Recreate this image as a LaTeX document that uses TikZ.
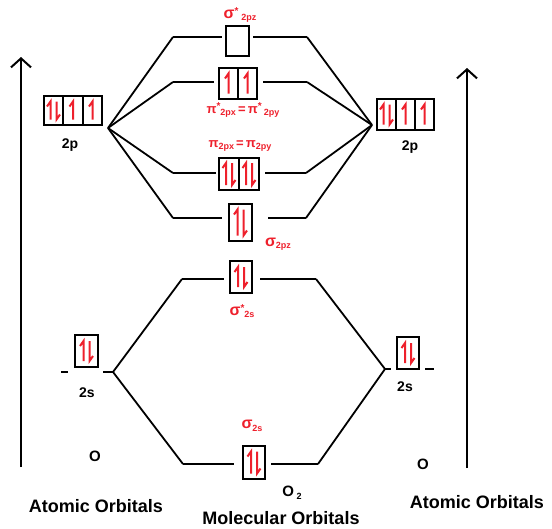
\documentclass[tikz,border=0pt]{standalone}
\usepackage{fontspec}
\setmainfont{Liberation Sans}
\usetikzlibrary{arrows.meta}
\definecolor{elred}{RGB}{238,32,44}
\newcommand{\lowtxt}[1]{\raisebox{-2.5pt}{\fontsize{9}{9}\selectfont #1}}
\newcommand{\hightxt}[1]{\raisebox{4pt}{\fontsize{10}{10}\selectfont #1}}
\begin{document}
\begin{tikzpicture}[x=1pt,y=-1pt,
  lvl/.style={line width=1.8pt, black},
  orb/.style={draw, line width=2.4pt, inner sep=0pt},
  harp/.style={elred, line width=2pt, line join=miter},
  rl/.style={text=elred, font=\bfseries\fontsize{16}{16}\selectfont, inner sep=0pt},
  rs/.style={text=elred, font=\bfseries\fontsize{13}{13}\selectfont, inner sep=0pt},
  bl/.style={font=\bfseries\fontsize{14}{14}\selectfont, inner sep=0pt},
  big/.style={font=\bfseries\fontsize{18}{18}\selectfont, inner sep=0pt},
  axis/.style={line width=2pt, -{Straight Barb[length=9pt,width=20pt,line width=2pt]}},
  pics/uph/.style={code={\draw[harp] (0,#1) -- (0,-#1) -- (-3.5,-#1+5);}},
  pics/dnh/.style={code={\draw[harp] (0,-#1) -- (0,#1) -- (3.5,#1-5);}},
  pics/pairh/.style={code={\pic at (-3,0) {uph=#1}; \pic at (3,0) {dnh=#1};}}
]
\useasboundingbox (0,0) rectangle (552,528);

% axes
\coordinate (la0) at (21,467); \coordinate (la1) at (21,57);
\coordinate (ra0) at (467,468); \coordinate (ra1) at (467,68);
\draw[axis] (la0) -- (la1);
\draw[axis] (ra0) -- (ra1);

% atomic 2p boxes
\node[orb, minimum width=19.5pt, minimum height=29pt] (l2pa) at (53.5,110.5) {};
\node[orb, minimum width=19.5pt, minimum height=29pt] (l2pb) at (73,110.5) {};
\node[orb, minimum width=19.5pt, minimum height=29pt] (l2pc) at (92.5,110.5) {};
\pic at (l2pa) {pairh=9}; \pic at (l2pb) {uph=9}; \pic at (l2pc) {uph=9};
\node[orb, minimum width=19pt, minimum height=31pt] (r2pa) at (386.5,114.5) {};
\node[orb, minimum width=19pt, minimum height=31pt] (r2pb) at (405.5,114.5) {};
\node[orb, minimum width=19pt, minimum height=31pt] (r2pc) at (424.5,114.5) {};
\pic at (r2pa) {pairh=10}; \pic at (r2pb) {uph=10}; \pic at (r2pc) {uph=10};
\node[bl] (l2pt) at (70,145) {2p};
\node[bl] (r2pt) at (410,147) {2p};

% molecular orbital boxes (2p)
\node[orb, minimum width=23pt, minimum height=30pt] (sps) at (237.5,41) {};
\node[orb, minimum width=19pt, minimum height=31pt] (pisa) at (228.5,83.5) {};
\node[orb, minimum width=19pt, minimum height=31pt] (pisb) at (247.5,83.5) {};
\pic at (pisa) {uph=10}; \pic at (pisb) {uph=10};
\node[orb, minimum width=20pt, minimum height=32pt] (pia) at (229,174) {};
\node[orb, minimum width=20pt, minimum height=32pt] (pib) at (249,174) {};
\pic at (pia) {pairh=11}; \pic at (pib) {pairh=11};
\node[orb, minimum width=23pt, minimum height=37pt] (spz) at (240.5,222.5) {};
\pic at (spz) {pairh=13};

% 2s boxes
\node[orb, minimum width=22pt, minimum height=32pt] (sss) at (241,277) {};
\pic at (sss) {pairh=10};
\node[orb, minimum width=22pt, minimum height=33pt] (ss) at (254,462.5) {};
\pic at (ss) {pairh=11};
\node[orb, minimum width=23pt, minimum height=32pt] (l2s) at (86.5,351) {};
\pic at (l2s) {pairh=10};
\node[orb, minimum width=22pt, minimum height=32pt] (r2s) at (408,353) {};
\pic at (r2s) {pairh=10};
\node[bl] (l2st) at (87,393) {2s};
\node[bl] (r2st) at (405,387) {2s};

% junctions and level ends
\coordinate (jl) at (108,128); \coordinate (jr) at (372,125);
\coordinate (ul1) at (173,37); \coordinate (ul2) at (173,82);
\coordinate (ul3) at (173,173); \coordinate (ul4) at (173,218);
\coordinate (ur1) at (307,37); \coordinate (ur2) at (307,82);
\coordinate (ur3) at (306,173); \coordinate (ur4) at (306,218);

\draw[lvl] (jl) -- (ul1); \draw[lvl] (jl) -- (ul2);
\draw[lvl] (jl) -- (ul3); \draw[lvl] (jl) -- (ul4);
\draw[lvl] (jr) -- (ur1); \draw[lvl] (jr) -- (ur2);
\draw[lvl] (jr) -- (ur3); \draw[lvl] (jr) -- (ur4);

\draw[lvl, shorten >=3pt] (ul1) -- (ul1 -| sps.west);
\draw[lvl, shorten >=3pt] (ur1) -- (ur1 -| sps.east);
\draw[lvl, shorten >=4pt] (ul2) -- (ul2 -| pisa.west);
\draw[lvl, shorten >=5pt] (ur2) -- (ur2 -| pisb.east);
\draw[lvl, shorten >=2pt] (ul3) -- (ul3 -| pia.west);
\draw[lvl, shorten >=5pt] (ur3) -- (ur3 -| pib.east);
\draw[lvl, shorten >=6pt] (ul4) -- (ul4 -| spz.west);
\draw[lvl, shorten >=15pt] (ur4) -- (ur4 -| spz.east);

\coordinate (jl2) at (113,372); \coordinate (jr2) at (385,369);
\coordinate (ll1) at (182,279); \coordinate (lr1) at (316,279);
\coordinate (ll2) at (183,464); \coordinate (lr2) at (318,464);
\draw[lvl] (jl2) -- (ll1); \draw[lvl] (jl2) -- (ll2);
\draw[lvl] (jr2) -- (lr1); \draw[lvl] (jr2) -- (lr2);
\draw[lvl, shorten >=5pt] (ll1) -- (ll1 -| sss.west);
\draw[lvl, shorten >=7pt] (lr1) -- (lr1 -| sss.east);
\draw[lvl, shorten >=8pt] (ll2) -- (ll2 -| ss.west);
\draw[lvl, shorten >=5pt] (lr2) -- (lr2 -| ss.east);

\coordinate (d1) at (61,372); \coordinate (d2) at (68,372);
\coordinate (d3) at (103,372);
\draw[lvl] (d1) -- (d2); \draw[lvl] (d3) -- (jl2);
\coordinate (d4) at (391,369); \coordinate (d5) at (425,369); \coordinate (d6) at (434,369);
\draw[lvl] (jr2) -- (d4); \draw[lvl] (d5) -- (d6);

% red labels
\node[rl] (t1) at (240,15) {σ\hightxt{*}\,\lowtxt{2pz}};
\node[rs] (t2) at (243,110) {π\hightxt{*}\lowtxt{2px}\,=\,π\hightxt{*}\,\lowtxt{2py}};
\node[rs] (t3) at (240,146) {π\lowtxt{2px}\,=\,π\lowtxt{2py}};
\node[rl] (t4) at (278,244) {σ\lowtxt{2pz}};
\node[rl] (t5) at (242,311) {σ\hightxt{*}\lowtxt{2s}};
\node[rl] (t6) at (252,426) {σ\lowtxt{2s}};

% black labels
\node[font=\bfseries\fontsize{15}{15}\selectfont, inner sep=0pt] (o1) at (95,456) {O};
\node[font=\bfseries\fontsize{15}{15}\selectfont, inner sep=0pt] (o2) at (423,464) {O};
\node[font=\bfseries\fontsize{15}{15}\selectfont, inner sep=0pt] (o3) at (292,493) {O\,\lowtxt{2}};
\node[big] (ao1) at (96,506) {Atomic Orbitals};
\node[big] (mo) at (281,518) {Molecular Orbitals};
\node[big] (ao2) at (477,502) {Atomic Orbitals};
\end{tikzpicture}
\end{document}
